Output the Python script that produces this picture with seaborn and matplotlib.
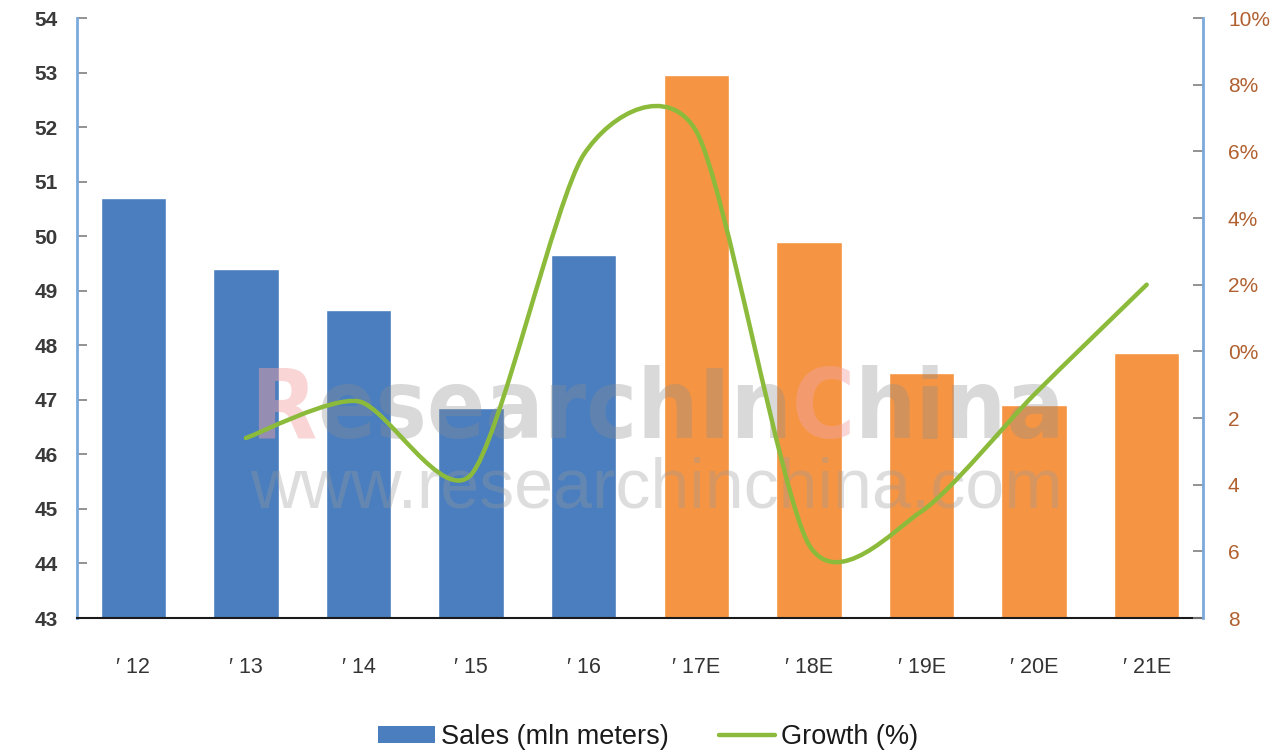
import numpy as np
import pandas as pd
import matplotlib
matplotlib.use("Agg")
import matplotlib.pyplot as plt
import seaborn as sns
from matplotlib.path import Path
from matplotlib.patches import PathPatch, Patch
from matplotlib.lines import Line2D
from matplotlib import font_manager

# ---------------- data ----------------
categories = ["′ 12", "′ 13", "′ 14", "′ 15", "′ 16", "′ 17E", "′ 18E", "′ 19E", "′ 20E", "′ 21E"]
sales = [50.7, 49.4, 48.65, 46.85, 49.65, 52.95, 49.9, 47.5, 46.9, 47.85]
growth_categories = ["′ 13", "′ 14", "′ 15", "′ 16", "′ 17E", "′ 18E", "′ 19E", "′ 20E", "′ 21E"]
growth = [-2.6, -1.5, -3.7, 5.9, 6.6, -5.8, -4.8, -1.3, 2.0]
left_ticks = list(range(43, 55))
right_ticks = [-8, -6, -4, -2, 0, 2, 4, 6, 8, 10]
right_labels = ["8", "6", "4", "2", "0%", "2%", "4%", "6%", "8%", "10%"]

# ---------------- style ----------------
sns.set_theme(style="white")
avail = {f.name for f in font_manager.fontManager.ttflist}
base_font = "Liberation Sans" if "Liberation Sans" in avail else "DejaVu Sans"
plt.rcParams["font.family"] = [base_font, "DejaVu Sans"]

# upright condensed face for the watermark, if any
def _is_bold(w):
    try:
        return int(w) >= 600
    except (TypeError, ValueError):
        return "bold" in str(w).lower()

cands = []
for f in font_manager.fontManager.ttflist:
    nm = f.name.lower()
    fn = f.fname.lower()
    if f.style != "normal" or "italic" in fn or "oblique" in fn:
        continue
    if ("narrow" in nm or "condensed" in nm or "condensed" in str(f.stretch).lower()
            or "condensed" in fn or "narrow" in fn) and "mono" not in nm and "serif" not in nm:
        cands.append(f)
cands.sort(key=lambda f: (not _is_bold(f.weight)))
if cands:
    wm_prop = font_manager.FontProperties(fname=cands[0].fname, size=90)
else:
    wm_prop = font_manager.FontProperties(family=base_font, weight="bold", size=90)

BLUE = "#4A7EBF"
ORANGE = "#F59543"
GREEN = "#8CBB3C"
SPINE = "#7BA9DC"

fig = plt.figure(figsize=(12.76, 7.51), dpi=100)
ax = fig.add_axes([77 / 1276, 133 / 751, 1126 / 1276, 600 / 751])

df = pd.DataFrame({"cat": categories, "sales": sales})
colors = [BLUE] * 5 + [ORANGE] * 5
sns.barplot(data=df, x="cat", y="sales", hue="cat", palette=colors, legend=False,
            width=0.58, ax=ax, saturation=1, zorder=2)
ax.set_ylim(43, 54)
ax.set_xlim(-0.5, len(categories) - 0.5)
ax.set_yticks(left_ticks)
ax.set_xlabel("")
ax.set_ylabel("")
ax.tick_params(axis="y", direction="in", length=7, width=1.2, color="#7f7f7f",
               labelsize=15, labelcolor="#3a3a3a", pad=14)
ax.tick_params(axis="x", length=0, labelsize=15.5, labelcolor="#333333", pad=28)
for lbl in ax.get_yticklabels():
    lbl.set_fontweight("bold")

ax.spines["top"].set_visible(False)
ax.spines["left"].set_color(SPINE)
ax.spines["left"].set_linewidth(2)
ax.spines["right"].set_visible(False)
ax.spines["bottom"].set_color("#1a1a1a")
ax.spines["bottom"].set_linewidth(1.5)
ax.spines["bottom"].set_zorder(5)

# ---------------- watermark ----------------
pieces = [("R", "#F2A3A3", 0.45), ("esearchIn", "#8C8C8C", 0.33),
          ("C", "#F2A3A3", 0.45), ("hina", "#8C8C8C", 0.33)]
wm_texts = []
prev = None
for s, c, a in pieces:
    if prev is None:
        t = ax.text(0.154, 0.30, s, transform=ax.transAxes, fontproperties=wm_prop.copy(),
                    color=c, alpha=a, zorder=3, va="baseline")
    else:
        t = ax.annotate(s, xy=(1, 0), xycoords=prev, va="bottom",
                        fontproperties=wm_prop.copy(), color=c, alpha=a, zorder=3)
    wm_texts.append(t)
    prev = t
www = ax.text(0.154, 0.185, "www.researchinchina.com", transform=ax.transAxes, fontsize=50,
              color="#9A9A9A", alpha=0.33, zorder=3, va="baseline")

# scale watermark texts so they span the same width as in the reference (~815 px)
target = 815.0
fig.canvas.draw()
r = fig.canvas.get_renderer()
w_main = wm_texts[-1].get_window_extent(r).x1 - wm_texts[0].get_window_extent(r).x0
scale = target / w_main
for t in wm_texts:
    t.set_fontsize(t.get_fontsize() * scale)
w_www = www.get_window_extent(r).width
www.set_fontsize(www.get_fontsize() * target / w_www)

# ---------------- growth line (secondary axis) ----------------
ax2 = ax.twinx()
ax2.set_ylim(-8, 10)
ax2.set_yticks(right_ticks)
ax2.set_yticklabels(right_labels)
ax2.tick_params(axis="y", direction="in", length=7, width=1.2, color="#7f7f7f",
                labelsize=15, labelcolor="#B0602F", pad=18)
for s in ["top", "left", "bottom"]:
    ax2.spines[s].set_visible(False)
ax2.spines["right"].set_color(SPINE)
ax2.spines["right"].set_linewidth(2)

pos = {c: i for i, c in enumerate(categories)}
gx = np.array([pos[c] for c in growth_categories], dtype=float)
gy = np.array(growth, dtype=float)
k = 0.125  # smoothing tension
verts = [(gx[0], gy[0])]
codes = [Path.MOVETO]
n = len(gx)
for i in range(n - 1):
    p_prev = (gx[i - 1], gy[i - 1]) if i > 0 else (gx[i], gy[i])
    p_next2 = (gx[i + 2], gy[i + 2]) if i + 2 < n else (gx[i + 1], gy[i + 1])
    c1 = (gx[i] + k * (gx[i + 1] - p_prev[0]), gy[i] + k * (gy[i + 1] - p_prev[1]))
    c2 = (gx[i + 1] - k * (p_next2[0] - gx[i]), gy[i + 1] - k * (p_next2[1] - gy[i]))
    verts += [c1, c2, (gx[i + 1], gy[i + 1])]
    codes += [Path.CURVE4, Path.CURVE4, Path.CURVE4]
ax2.add_patch(PathPatch(Path(verts, codes), facecolor="none", edgecolor=GREEN,
                        linewidth=3.2, capstyle="round", joinstyle="round", zorder=6))

# ---------------- legend ----------------
handles = [Patch(facecolor=BLUE, edgecolor="none", label="Sales (mln meters)"),
           Line2D([0], [0], color=GREEN, linewidth=3.2, label="Growth (%)")]
fig.legend(handles=handles, loc="center", bbox_to_anchor=(0.508, 0.019), ncol=2,
           frameon=False, fontsize=19.5, handlelength=2.1, handleheight=0.6,
           handletextpad=0.22, columnspacing=1.85, labelcolor="#1a1a1a")

fig.savefig("out.png", dpi=100)
